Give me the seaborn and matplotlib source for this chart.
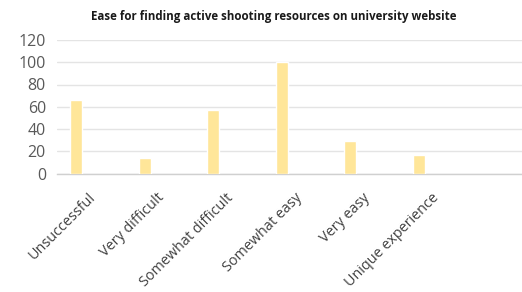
import matplotlib
matplotlib.use("Agg")
import matplotlib.pyplot as plt
import seaborn as sns
import pandas as pd

categories = ["Unsuccessful", "Very difficult", "Somewhat difficult",
              "Somewhat easy", "Very easy", "Unique experience"]
counts = [66, 14, 57, 100, 29, 17]
y_ticks = [0, 20, 40, 60, 80, 100, 120]

df = pd.DataFrame({"category": categories, "count": counts})

sns.set_theme(style="white")
plt.rcParams["font.family"] = ["Open Sans", "DejaVu Sans"]

fig = plt.figure(figsize=(5.22, 2.92), dpi=100)
ax = fig.add_axes([57 / 522, 1 - 173.5 / 292, 1 - 57 / 522, 133.5 / 292])

sns.barplot(data=df, x="category", y="count", color="#FFE699", saturation=1,
            width=0.175, ax=ax, zorder=3)

ax.set_xlim(-0.277, 6.5)
ax.set_ylim(0, 120)
ax.set_yticks(y_ticks)
ax.set_yticklabels([str(t) for t in y_ticks], fontsize=11.5, color="#595959")
ax.yaxis.grid(True, color="#E4E4E4", linewidth=1)
ax.set_axisbelow(True)
ax.tick_params(axis="y", length=0, pad=8)
ax.tick_params(axis="x", length=0, pad=12)

# category labels sit near the middle of each slot, bars are offset to the left
ax.set_xticks([i + 0.18 for i in range(len(categories))])
ax.set_xticklabels(categories, rotation=45, ha="right", rotation_mode="anchor",
                   fontsize=10.4, color="#404040")

for side in ["top", "right", "left"]:
    ax.spines[side].set_visible(False)
ax.spines["bottom"].set_color("#D0D0D0")
ax.spines["bottom"].set_linewidth(1)
ax.set_xlabel("")
ax.set_ylabel("")

fig.text(0.524, 0.945, "Ease for finding active shooting resources on university website",
         ha="center", va="center", fontsize=8.3, fontweight="bold", color="#1a1a1a")

fig.savefig("out.png", dpi=100)
